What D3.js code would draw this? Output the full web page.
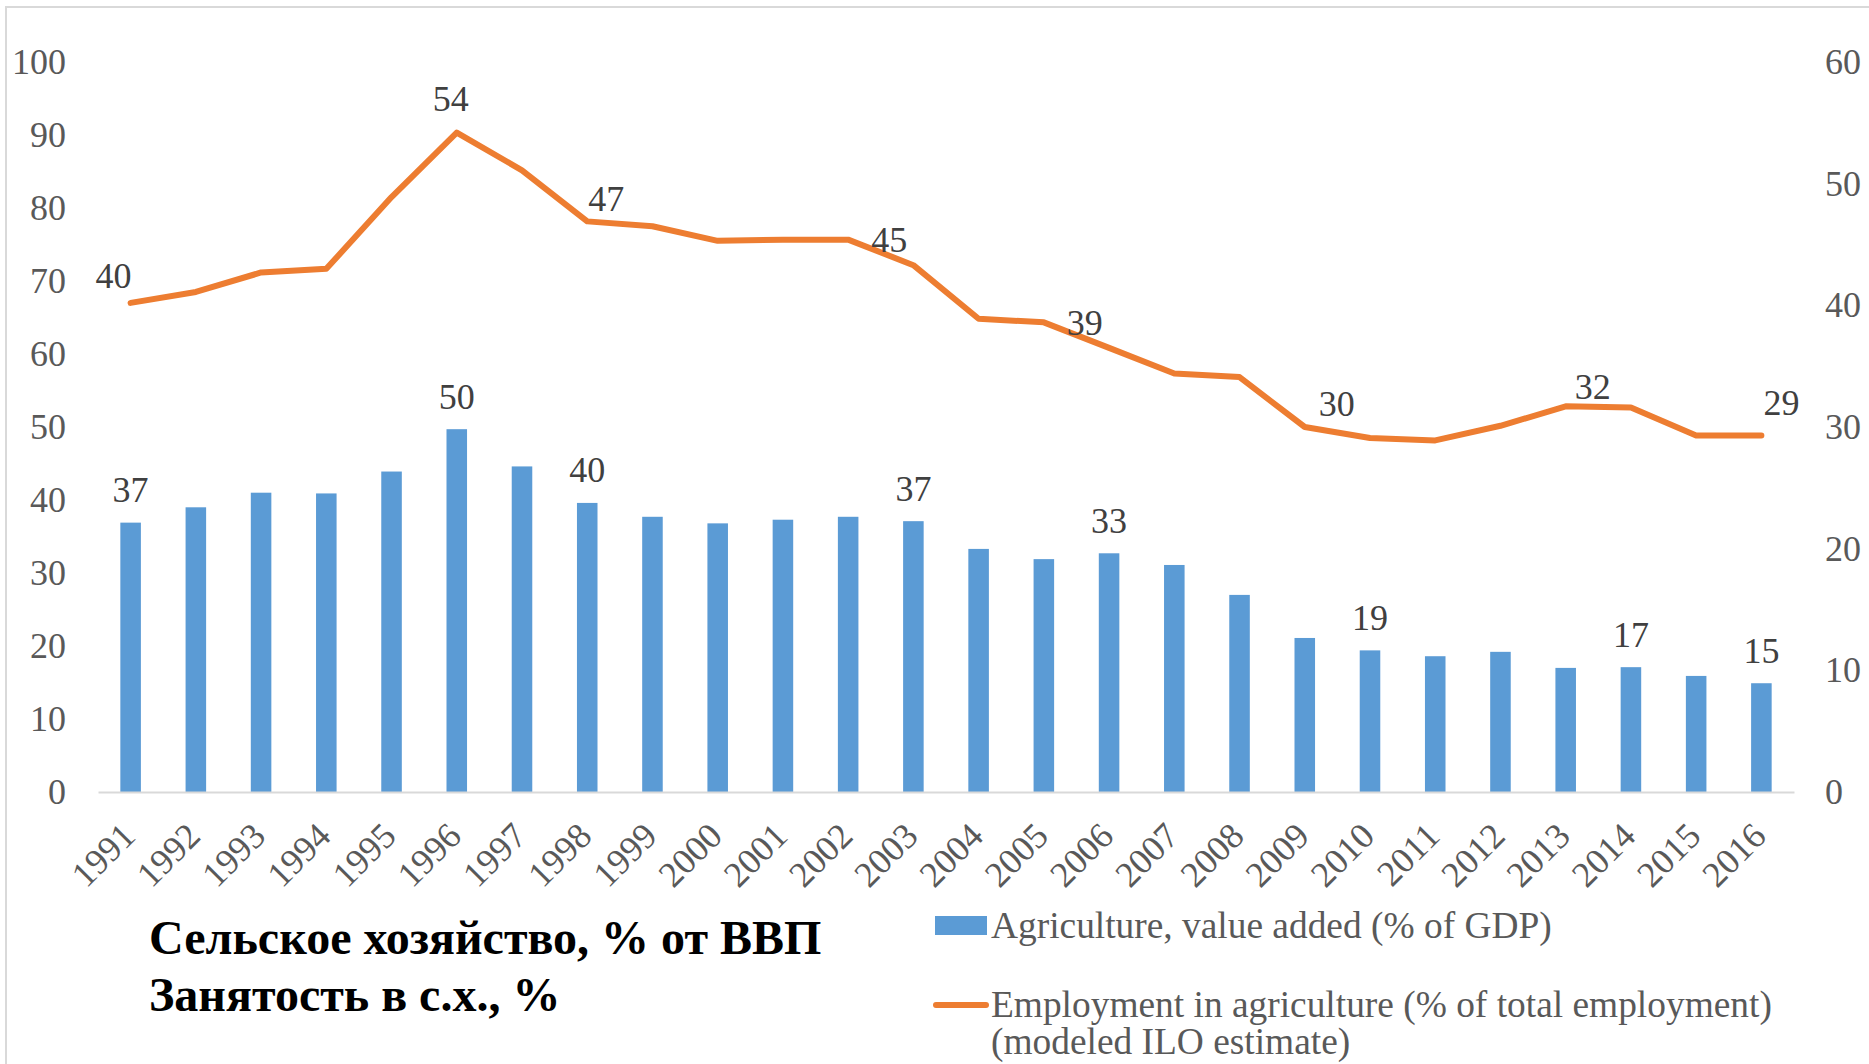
<!DOCTYPE html>
<html>
<head>
<meta charset="utf-8">
<script src="https://cdn.jsdelivr.net/npm/d3@7/dist/d3.min.js"></script>
<style>
  html, body { margin: 0; padding: 0; background: #fff; }
  svg { display: block; }
  text { font-family: "Liberation Serif", "Times New Roman", serif; }
</style>
</head>
<body>
<div id="chart"></div>
<script>
const years = ["1991","1992","1993","1994","1995","1996","1997","1998","1999","2000","2001","2002","2003",
               "2004","2005","2006","2007","2008","2009","2010","2011","2012","2013","2014","2015","2016"];
// Agriculture, value added (% of GDP) - left axis
const agriGdp = [36.9, 39.0, 41.0, 40.9, 43.9, 49.7, 44.6, 39.6, 37.7, 36.8, 37.3, 37.7, 37.1,
                 33.3, 31.9, 32.7, 31.1, 27.0, 21.1, 19.4, 18.6, 19.2, 17.0, 17.1, 15.9, 14.9];
// Employment in agriculture (% of total employment) - right axis
const employment = [40.2, 41.1, 42.7, 43.0, 48.9, 54.2, 51.1, 46.9, 46.5, 45.3, 45.4, 45.4, 43.3,
                    38.9, 38.6, 36.5, 34.4, 34.1, 30.0, 29.1, 28.9, 30.1, 31.7, 31.6, 29.3, 29.3];
const leftTicks = [0, 10, 20, 30, 40, 50, 60, 70, 80, 90, 100];
const rightTicks = [0, 10, 20, 30, 40, 50, 60];
const barLabelYears = ["1991","1996","1998","2003","2006","2010","2014","2016"];
const lineLabelYears = ["1991","1996","1998","2002","2005","2009","2013","2016"];
const legendNames = ["Agriculture, value added (% of GDP)",
                     ["Employment in agriculture (% of total employment)", "(modeled ILO estimate)"]];
const titleLines = ["Сельское хозяйство, % от ВВП", "Занятость в с.х., %"];

// label nudges (dx, dy from the point), moved by hand like in the original
const lineLabelOffsets = [[-17,-15],[-6,-22],[19,-10],[41,12],[41,13],[32,-11],[27,-7],[20,-21]];

const W = 1869, H = 1064;
const plotL = 98, plotR = 1794, plotT = 62, plotB = 792;
const barColor = "#5b9bd5";
const lineColor = "#ed7d31";
const axisText = "#595959";
const labelText = "#404040";

const svg = d3.select("#chart").append("svg")
    .attr("width", W)
    .attr("height", H);

// chart frame (only left and top edges are in view)
svg.append("rect")
    .attr("x", 6).attr("y", 7)
    .attr("width", W + 20).attr("height", H + 20)
    .attr("fill", "none")
    .attr("stroke", "#d9d9d9")
    .attr("stroke-width", 2);

const x = d3.scaleBand().domain(years).range([plotL, plotR]).padding(0);
const yL = d3.scaleLinear().domain([0, 100]).range([plotB, plotT]);
const yR = d3.scaleLinear().domain([0, 60]).range([plotB, plotT]);
const barW = x.bandwidth() * 0.315;
const cx = d => x(d) + x.bandwidth() / 2;

// left axis
const gL = svg.append("g")
    .attr("transform", "translate(" + plotL + ",0)")
    .call(d3.axisLeft(yL).tickValues(leftTicks).tickSize(0).tickPadding(32));
gL.select(".domain").remove();
gL.selectAll("text")
    .attr("fill", axisText)
    .style("font-size", "36px")
    .style("font-family", "'Liberation Serif', serif");

// right axis
const gR = svg.append("g")
    .attr("transform", "translate(" + plotR + ",0)")
    .call(d3.axisRight(yR).tickValues(rightTicks).tickSize(0).tickPadding(31));
gR.select(".domain").remove();
gR.selectAll("text")
    .attr("fill", axisText)
    .style("font-size", "36px")
    .style("font-family", "'Liberation Serif', serif");

// bars
svg.append("g").selectAll("rect")
    .data(agriGdp)
    .enter().append("rect")
    .attr("x", (d, i) => cx(years[i]) - barW / 2)
    .attr("y", d => yL(d))
    .attr("width", barW)
    .attr("height", d => plotB - yL(d))
    .attr("fill", barColor);

// x axis
const gX = svg.append("g")
    .attr("transform", "translate(0," + plotB + ")")
    .call(d3.axisBottom(x).tickSize(0));
gX.select(".domain")
    .attr("stroke", "#d9d9d9")
    .attr("stroke-width", 2);
gX.selectAll("text")
    .attr("x", 0).attr("y", 0).attr("dy", 0)
    .attr("text-anchor", "end")
    .attr("transform", "translate(6.5,46) rotate(-45)")
    .attr("fill", axisText)
    .style("font-size", "36px")
    .style("font-family", "'Liberation Serif', serif");

// line
const line = d3.line()
    .x((d, i) => cx(years[i]))
    .y(d => yR(d));
svg.append("path")
    .datum(employment)
    .attr("d", line)
    .attr("fill", "none")
    .attr("stroke", lineColor)
    .attr("stroke-width", 6)
    .attr("stroke-linejoin", "round")
    .attr("stroke-linecap", "round");

// bar data labels
svg.append("g").selectAll("text")
    .data(barLabelYears)
    .enter().append("text")
    .attr("x", d => cx(d))
    .attr("y", d => yL(agriGdp[years.indexOf(d)]) - 20.5)
    .attr("text-anchor", "middle")
    .attr("fill", labelText)
    .style("font-size", "36px")
    .text(d => Math.round(agriGdp[years.indexOf(d)]));

// line data labels
svg.append("g").selectAll("text")
    .data(lineLabelYears)
    .enter().append("text")
    .attr("x", (d, i) => cx(d) + lineLabelOffsets[i][0])
    .attr("y", (d, i) => yR(employment[years.indexOf(d)]) + lineLabelOffsets[i][1])
    .attr("text-anchor", "middle")
    .attr("fill", labelText)
    .style("font-size", "36px")
    .text(d => Math.round(employment[years.indexOf(d)]));

// title text
svg.append("g").selectAll("text")
    .data(titleLines)
    .enter().append("text")
    .attr("x", 149)
    .attr("y", (d, i) => 954 + i * 57)
    .attr("fill", "#000")
    .attr("font-weight", "bold")
    .style("font-size", "48px")
    .text(d => d);

// legend
const leg = svg.append("g");
leg.append("rect")
    .attr("x", 935).attr("y", 916)
    .attr("width", 52).attr("height", 19)
    .attr("fill", barColor);
leg.append("text")
    .attr("x", 991).attr("y", 938)
    .attr("fill", axisText)
    .style("font-size", "37.4px")
    .text(legendNames[0]);
leg.append("line")
    .attr("x1", 936).attr("x2", 986)
    .attr("y1", 1005).attr("y2", 1005)
    .attr("stroke", lineColor)
    .attr("stroke-width", 6)
    .attr("stroke-linecap", "round");
leg.append("g").selectAll("text")
    .data(legendNames[1])
    .enter().append("text")
    .attr("x", 991)
    .attr("y", (d, i) => 1017 + i * 37)
    .attr("fill", axisText)
    .style("font-size", "37.4px")
    .text(d => d);
</script>
</body>
</html>
